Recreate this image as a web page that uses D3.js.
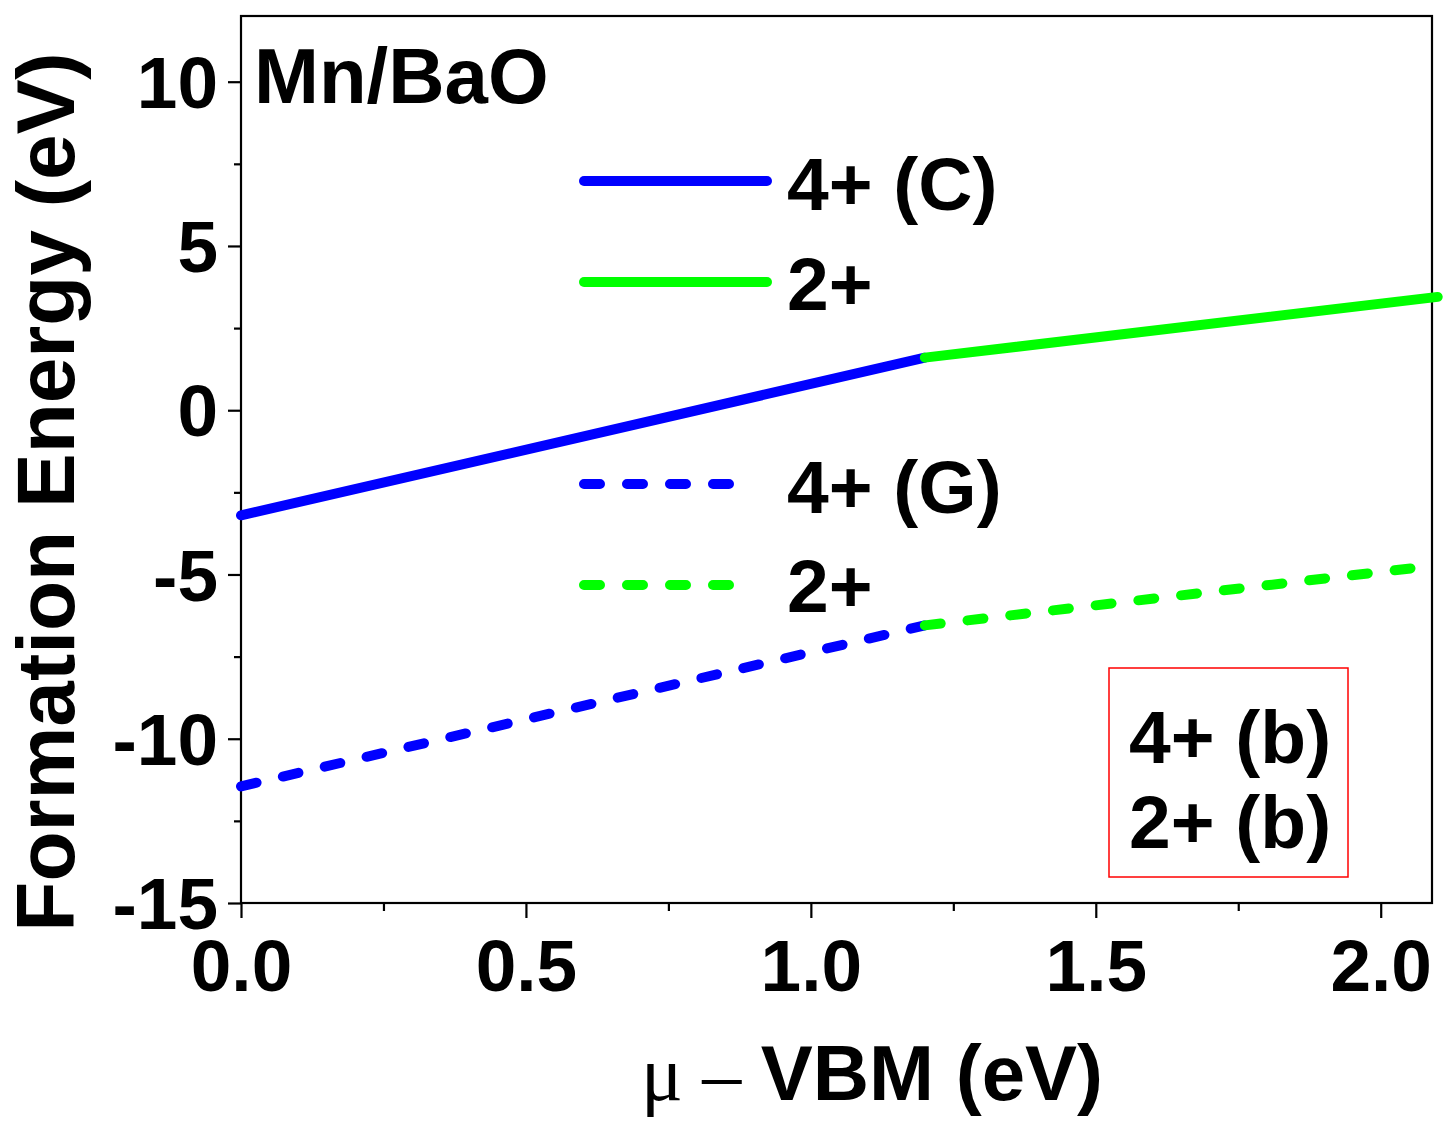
<!DOCTYPE html>
<html>
<head>
<meta charset="utf-8">
<script src="https://cdn.jsdelivr.net/npm/d3@7"></script>
<style>
  body { margin: 0; background: #fff; }
  svg { display: block; font-family: "Liberation Sans", Arial, sans-serif; }
</style>
</head>
<body>
<div id="chart"></div>
<script>
// data
const xTicks = [0, 0.5, 1.0, 1.5, 2.0]
const yTicks = [-15, -10, -5, 0, 5, 10]
const charge4C = [[0, -3.2], [1.2, 1.6]]
const charge2C = [[1.2, 1.6], [2.1, 3.45]]
const charge4G = [[0, -11.45], [1.2, -6.55]]
const charge2G = [[1.2, -6.55], [2.06, -4.8]]
const legendLabels = ["4+ (C)", "2+", "4+ (G)", "2+"]
const boxLabels = ["4+ (b)", "2+ (b)"]

const W = 1454, H = 1133
const margin = { left: 241, top: 16, right: 22, bottom: 230 }
const width = W - margin.left - margin.right
const height = H - margin.top - margin.bottom

const BLUE = "#0000ff", GREEN = "#00ff00"

const svg = d3.select("#chart").append("svg")
    .attr("width", W)
    .attr("height", H)

const x = d3.scaleLinear().domain([0, 2.09]).range([margin.left, margin.left + width])
const y = d3.scaleLinear().domain([-15, 12]).range([margin.top + height, margin.top])

/* AXES */
const xMinor = d3.range(0.25, 2.09, 0.5)
const yMinor = d3.range(-12.5, 12, 5)

svg.append("g")
    .attr("transform", `translate(0, ${margin.top + height})`)
    .call(d3.axisBottom(x).tickValues(xMinor).tickSize(8).tickFormat(""))
svg.append("g")
    .attr("class", "x-major")
    .attr("transform", `translate(0, ${margin.top + height})`)
    .call(d3.axisBottom(x).tickValues(xTicks).tickSize(15).tickPadding(21).tickFormat(d3.format(".1f")))

svg.append("g")
    .attr("transform", `translate(${margin.left}, 0)`)
    .call(d3.axisLeft(y).tickValues(yMinor).tickSize(7).tickFormat(""))
svg.append("g")
    .attr("class", "y-major")
    .attr("transform", `translate(${margin.left}, 0)`)
    .call(d3.axisLeft(y).tickValues(yTicks).tickSize(13).tickPadding(10).tickFormat(d => String(d)))

svg.selectAll(".domain").remove()
svg.selectAll(".tick line").attr("stroke", "#000").attr("stroke-width", 2.2)
svg.selectAll(".x-major text, .y-major text")
    .attr("fill", "#000")
    .style("font-size", "73px")
    .style("font-weight", "bold")
svg.selectAll(".y-major text").attr("dy", "0.35em")

// frame
svg.append("rect")
    .attr("x", margin.left)
    .attr("y", margin.top)
    .attr("width", width)
    .attr("height", height)
    .attr("fill", "none")
    .attr("stroke", "#000")
    .attr("stroke-width", 2.2)

/* LINES */
const line = d3.line().x(d => x(d[0])).y(d => y(d[1]))
const series = [
    { data: charge4C, color: BLUE, dash: null },
    { data: charge2C, color: GREEN, dash: null },
    { data: charge4G, color: BLUE, dash: "16 27" },
    { data: charge2G, color: GREEN, dash: "16 27" }
]
series.forEach(s => {
    svg.append("path")
        .attr("d", line(s.data))
        .attr("fill", "none")
        .attr("stroke", s.color)
        .attr("stroke-width", 10)
        .attr("stroke-linecap", "round")
        .attr("stroke-dasharray", s.dash)
})

/* LEGEND */
const legendRows = [
    { y: 181, x2: 767, textY: 210, color: BLUE, dash: null },
    { y: 282, x2: 767, textY: 310, color: GREEN, dash: null },
    { y: 484, x2: 732, textY: 513, color: BLUE, dash: "16 27" },
    { y: 585, x2: 732, textY: 612, color: GREEN, dash: "16 27" }
]
legendRows.forEach((r, i) => {
    svg.append("line")
        .attr("x1", 584).attr("x2", r.x2)
        .attr("y1", r.y).attr("y2", r.y)
        .attr("stroke", r.color)
        .attr("stroke-width", 10)
        .attr("stroke-linecap", "round")
        .attr("stroke-dasharray", r.dash)
    svg.append("text")
        .attr("x", 787).attr("y", r.textY)
        .style("font-size", "75px")
        .style("font-weight", "bold")
        .text(legendLabels[i])
})

/* TITLE */
svg.append("text")
    .attr("x", 254).attr("y", 103)
    .style("font-size", "78px")
    .style("font-weight", "bold")
    .text("Mn/BaO")

/* RED BOX */
svg.append("rect")
    .attr("x", 1109).attr("y", 668)
    .attr("width", 239).attr("height", 209)
    .attr("fill", "none")
    .attr("stroke", "#ff0000")
    .attr("stroke-width", 1.5)
boxLabels.forEach((t, i) => {
    svg.append("text")
        .attr("x", 1129).attr("y", 763 + i * 85)
        .style("font-size", "75px")
        .style("font-weight", "bold")
        .text(t)
})

/* AXIS TITLES */
svg.append("text")
    .attr("transform", `translate(74, 492) rotate(-90)`)
    .attr("text-anchor", "middle")
    .style("font-size", "82px")
    .style("font-weight", "bold")
    .text("Formation Energy (eV)")

const xt = svg.append("text")
    .attr("x", 872).attr("y", 1100)
    .attr("text-anchor", "middle")
    .style("font-size", "78px")
xt.append("tspan")
    .style("font-family", "'Liberation Serif', 'DejaVu Serif', serif")
    .text("\u03bc \u2013 ")
xt.append("tspan")
    .style("font-weight", "bold")
    .text("VBM (eV)")
</script>
</body>
</html>
